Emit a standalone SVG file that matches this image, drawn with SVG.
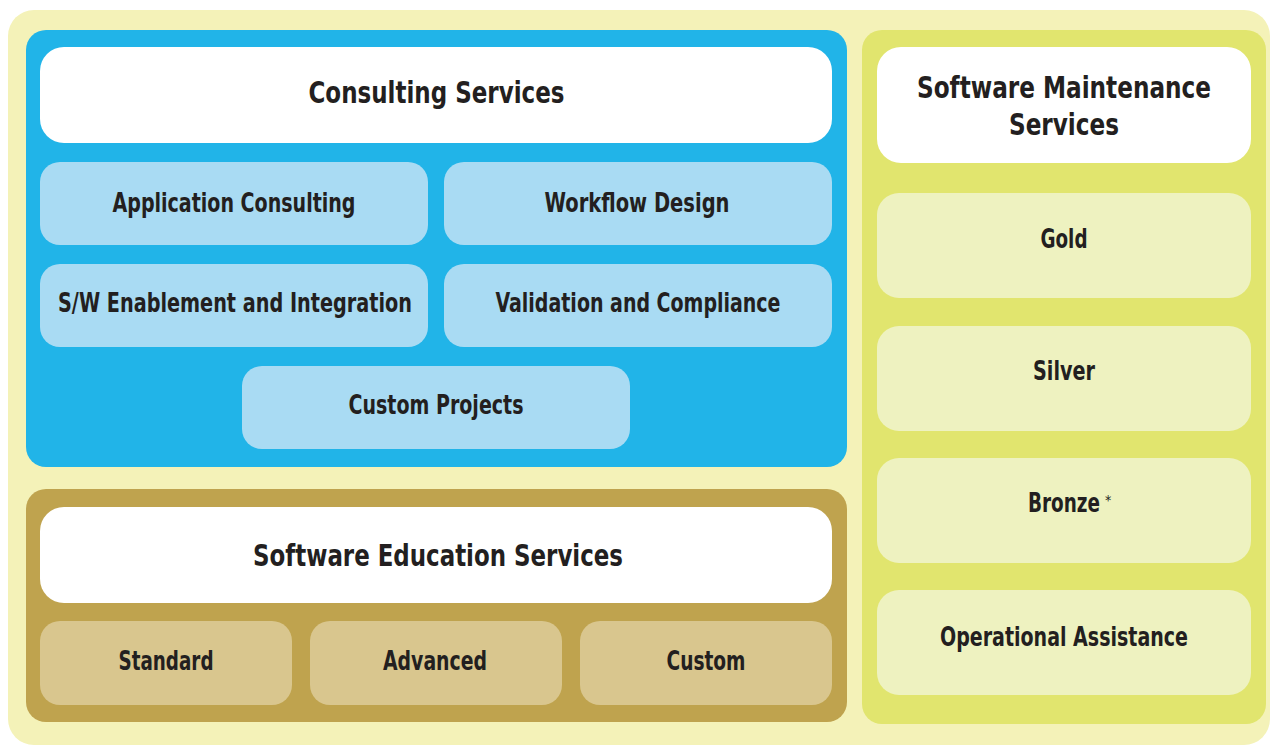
<svg xmlns="http://www.w3.org/2000/svg" width="1278" height="745" viewBox="0 0 1278 745">
<style>
text{font-family:"Liberation Sans Narrow","DejaVu Sans Condensed","Liberation Sans",sans-serif;font-weight:bold;fill:#231F20;text-anchor:middle}
.t{font-size:31px}
.s{font-size:27px}
.blue{fill:#A9DBF3}
.tan{fill:#D9C68E}
.lg{fill:#EEF2C0}
.wh{fill:#FFFFFF}
</style>
<rect x="8" y="10" width="1262" height="735" rx="26" fill="#F4F2B8"/>
<g id="consulting">
<rect x="26" y="30" width="821" height="437" rx="20" fill="#21B4E8"/>
<g id="consulting-header"><rect class="wh" x="40" y="47" width="792" height="96" rx="24"/><text class="t" x="436.5" y="103" textLength="256" lengthAdjust="spacingAndGlyphs">Consulting Services</text></g>
<g id="app-consulting"><rect class="blue" x="40" y="162" width="388" height="83" rx="20"/><text class="s" x="234" y="212" textLength="243" lengthAdjust="spacingAndGlyphs">Application Consulting</text></g>
<g id="workflow"><rect class="blue" x="444" y="162" width="388" height="83" rx="20"/><text class="s" x="637" y="212" textLength="185" lengthAdjust="spacingAndGlyphs">Workflow Design</text></g>
<g id="sw-enablement"><rect class="blue" x="40" y="264" width="388" height="83" rx="20"/><text class="s" x="235" y="312" textLength="354" lengthAdjust="spacingAndGlyphs">S/W Enablement and Integration</text></g>
<g id="validation"><rect class="blue" x="444" y="264" width="388" height="83" rx="20"/><text class="s" x="638" y="312" textLength="285" lengthAdjust="spacingAndGlyphs">Validation and Compliance</text></g>
<g id="custom-projects"><rect class="blue" x="242" y="366" width="388" height="83" rx="20"/><text class="s" x="436" y="414" textLength="175" lengthAdjust="spacingAndGlyphs">Custom Projects</text></g>
</g>
<g id="education">
<rect x="26" y="489" width="821" height="233" rx="20" fill="#BFA34E"/>
<g id="education-header"><rect class="wh" x="40" y="507" width="792" height="96" rx="24"/><text class="t" x="438" y="566" textLength="370" lengthAdjust="spacingAndGlyphs">Software Education Services</text></g>
<g id="standard"><rect class="tan" x="40" y="621" width="252" height="84" rx="20"/><text class="s" x="166" y="670" textLength="95" lengthAdjust="spacingAndGlyphs">Standard</text></g>
<g id="advanced"><rect class="tan" x="310" y="621" width="252" height="84" rx="20"/><text class="s" x="435" y="670" textLength="104" lengthAdjust="spacingAndGlyphs">Advanced</text></g>
<g id="custom"><rect class="tan" x="580" y="621" width="252" height="84" rx="20"/><text class="s" x="706" y="670" textLength="79" lengthAdjust="spacingAndGlyphs">Custom</text></g>
</g>
<g id="maintenance">
<rect x="862" y="30" width="404" height="694" rx="20" fill="#E1E56E"/>
<g id="maintenance-header"><rect class="wh" x="877" y="47" width="374" height="116" rx="24"/><text class="t" x="1064" y="98" textLength="294" lengthAdjust="spacingAndGlyphs">Software Maintenance</text><text class="t" x="1064" y="135" textLength="110" lengthAdjust="spacingAndGlyphs">Services</text></g>
<g id="gold"><rect class="lg" x="877" y="193" width="374" height="105" rx="22"/><text class="s" x="1064" y="248" textLength="47" lengthAdjust="spacingAndGlyphs">Gold</text></g>
<g id="silver"><rect class="lg" x="877" y="326" width="374" height="105" rx="22"/><text class="s" x="1064" y="380" textLength="62" lengthAdjust="spacingAndGlyphs">Silver</text></g>
<g id="bronze"><rect class="lg" x="877" y="458" width="374" height="105" rx="22"/><text class="s" x="1028" y="512" style="text-anchor:start"><tspan textLength="72" lengthAdjust="spacingAndGlyphs">Bronze</tspan><tspan dx="5" dy="-7" style="font-size:14px;font-weight:normal">*</tspan></text></g>
<g id="operational"><rect class="lg" x="877" y="590" width="374" height="105" rx="22"/><text class="s" x="1064" y="646" textLength="248" lengthAdjust="spacingAndGlyphs">Operational Assistance</text></g>
</g>
<g id="connectors"/>
</svg>
